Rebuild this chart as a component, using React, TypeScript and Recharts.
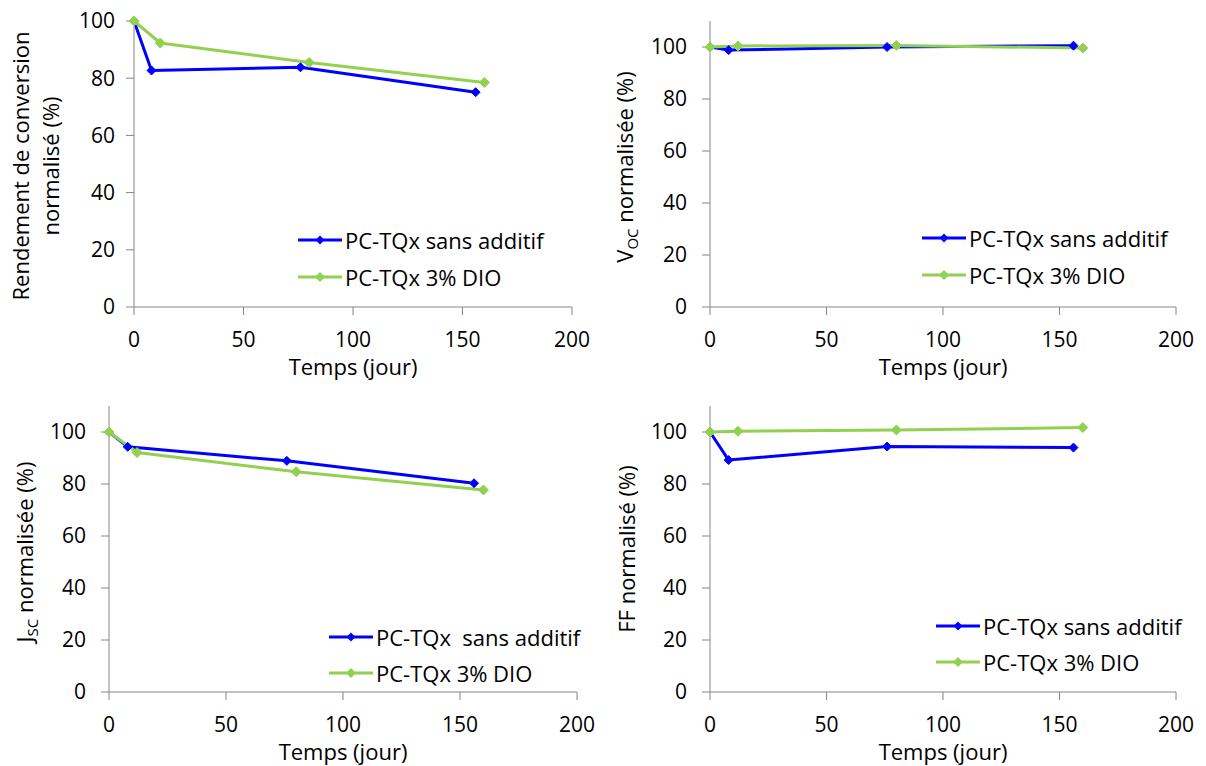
import React from 'react';
import { LineChart, Line, XAxis, YAxis } from 'recharts';

const FONT = '"Open Sans", sans-serif';
const BLUE = '#0000FF';
const GREEN = '#92D050';
const AXIS = '#868686';
const FS = 22;
const TICK_FS = 21;

// Days of measurement for each series
const blueDays = [0, 8, 76, 156];
const greenDays = [0, 12, 80, 160];

// Normalised values (%)
const pceBlue = [100, 82.7, 83.8, 75.1];
const pceGreen = [100, 92.3, 85.5, 78.5];
const vocBlue = [100, 98.8, 100.0, 100.5];
const vocGreen = [100, 100.4, 100.6, 99.6];
const jscBlue = [100, 94.3, 88.9, 80.3];
const jscGreen = [100, 92.1, 84.7, 77.7];
const ffBlue = [100, 89.2, 94.4, 94.0];
const ffGreen = [100, 100.3, 100.8, 101.7];

const xTicks = [0, 50, 100, 150, 200];
const yTicks = [0, 20, 40, 60, 80, 100];
const namesA = ['PC-TQx sans additif', 'PC-TQx 3% DIO'];
const namesJsc = ['PC-TQx  sans additif', 'PC-TQx 3% DIO'];
const xTitle = 'Temps (jour)';

const toPoints = (days: number[], vals: number[]) => days.map((x, i) => ({ x, y: vals[i] }));

const makeDiamond = (color: string, r: number) => (props: any) => {
  const { cx, cy, index } = props;
  if (cx == null || cy == null) return <g key={`n-${index}`} />;
  return (
    <path
      key={`d-${index}`}
      d={`M${cx},${cy - r} L${cx + r},${cy} L${cx},${cy + r} L${cx - r},${cy} Z`}
      fill={color}
      stroke={color}
      strokeWidth={1}
    />
  );
};

const blueDot = makeDiamond(BLUE, 4.5);
const greenDot = makeDiamond(GREEN, 5);

type PanelProps = {
  left: number;
  top: number;
  width: number;
  height: number;
  margin: { top: number; right: number; bottom: number; left: number };
  yMax: number;
  blue: number[];
  green: number[];
  yTickMargin: number;
  yTitle: React.ReactNode;
  legendX: number;
  legendY: number;
  legendRow: number;
  names: string[];
};

const Y_AXIS_W = 60;
const X_AXIS_H = 40;

function LegendIcon({ color, r }: { color: string; r: number }) {
  return (
    <svg width={44} height={14} style={{ display: 'block', flex: 'none' }}>
      <line x1={0} y1={7} x2={44} y2={7} stroke={color} strokeWidth={3} />
      <path d={`M22,${7 - r} L${22 + r},7 L22,${7 + r} L${22 - r},7 Z`} fill={color} />
    </svg>
  );
}

function Panel(p: PanelProps) {
  const plotLeft = p.margin.left + Y_AXIS_W;
  const plotRight = p.width - p.margin.right;
  const plotBottom = p.height - p.margin.bottom - X_AXIS_H;
  const cxTitle = (plotLeft + plotRight) / 2;
  const tickStyle = { fill: '#000', fontSize: TICK_FS, fontFamily: FONT };
  return (
    <div style={{ position: 'absolute', left: p.left, top: p.top, width: p.width, height: p.height }}>
      <LineChart width={p.width} height={p.height} margin={p.margin} style={{ overflow: 'visible' }}>
        <XAxis
          type="number"
          dataKey="x"
          domain={[0, 200]}
          ticks={xTicks}
          interval={0}
          height={X_AXIS_H}
          tickSize={8}
          tickMargin={17}
          stroke={AXIS}
          tick={tickStyle}
          label={{
            content: () => (
              <text x={cxTitle} y={plotBottom + 68} textAnchor="middle" fontSize={FS} fontFamily={FONT} fill="#000">
                {xTitle}
              </text>
            ),
          }}
        />
        <YAxis
          type="number"
          domain={[0, p.yMax]}
          ticks={yTicks}
          interval={0}
          width={Y_AXIS_W}
          tickSize={8}
          tickMargin={p.yTickMargin}
          stroke={AXIS}
          tick={tickStyle}
          label={{ content: () => p.yTitle }}
        />
        <Line
          data={toPoints(blueDays, p.blue)}
          dataKey="y"
          stroke={BLUE}
          strokeWidth={3}
          strokeLinejoin="round"
          dot={blueDot}
          activeDot={false}
          isAnimationActive={false}
        />
        <Line
          data={toPoints(greenDays, p.green)}
          dataKey="y"
          stroke={GREEN}
          strokeWidth={3}
          strokeLinejoin="round"
          dot={greenDot}
          activeDot={false}
          isAnimationActive={false}
        />
      </LineChart>
      <div
        style={{
          position: 'absolute',
          left: p.legendX,
          top: p.legendY - p.legendRow / 2,
          fontFamily: FONT,
          fontSize: FS,
          color: '#000',
          whiteSpace: 'pre',
        }}
      >
        {[BLUE, GREEN].map((c, i) => (
          <div key={i} style={{ display: 'flex', alignItems: 'center', height: p.legendRow, lineHeight: `${p.legendRow}px` }}>
            <LegendIcon color={c} r={i === 0 ? 4.5 : 5} />
            <span style={{ marginLeft: 3 }}>{p.names[i]}</span>
          </div>
        ))}
      </div>
    </div>
  );
}

const rotTitle = (x: number, y: number, content: React.ReactNode, key?: string) => (
  <text
    key={key}
    x={x}
    y={y}
    transform={`rotate(-90, ${x}, ${y})`}
    textAnchor="middle"
    fontSize={FS}
    fontFamily={FONT}
    fill="#000"
  >
    {content}
  </text>
);

const sub = (main: string, s: string, rest: string) => (
  <>
    <tspan>{main}</tspan>
    <tspan fontSize={15} dy={5}>{s}</tspan>
    <tspan dy={-5}>{rest}</tspan>
  </>
);

export default function App() {
  return (
    <div style={{ position: 'absolute', left: 0, top: 0, width: 1206, height: 766, background: '#fff' }}>
      <Panel
        left={0}
        top={0}
        width={600}
        height={390}
        margin={{ top: 21, right: 28, bottom: 43, left: 74 }}
        yMax={100}
        blue={pceBlue}
        green={pceGreen}
        yTickMargin={11}
        yTitle={
          <g>
            {rotTitle(29, 166, 'Rendement de conversion', 'a')}
            {rotTitle(59, 166, 'normalisé (%)', 'b')}
          </g>
        }
        legendX={298}
        legendY={240}
        legendRow={37}
        names={namesA}
      />
      <Panel
        left={600}
        top={0}
        width={606}
        height={390}
        margin={{ top: 21, right: 30, bottom: 43, left: 50 }}
        yMax={110}
        blue={vocBlue}
        green={vocGreen}
        yTickMargin={15}
        yTitle={rotTitle(33, 167, sub('V', 'OC', ' normalisée (%)'))}
        legendX={322}
        legendY={238}
        legendRow={37}
        names={namesA}
      />
      <Panel
        left={0}
        top={385}
        width={600}
        height={381}
        margin={{ top: 21, right: 23, bottom: 34, left: 49 }}
        yMax={110}
        blue={jscBlue}
        green={jscGreen}
        yTickMargin={15}
        yTitle={rotTitle(33, 167, sub('J', 'SC', ' normalisée (%)'))}
        legendX={329}
        legendY={252}
        legendRow={36}
        names={namesJsc}
      />
      <Panel
        left={600}
        top={385}
        width={606}
        height={381}
        margin={{ top: 21, right: 30, bottom: 34, left: 50 }}
        yMax={110}
        blue={ffBlue}
        green={ffGreen}
        yTickMargin={15}
        yTitle={rotTitle(35, 164, 'FF normalisé (%)')}
        legendX={336}
        legendY={241}
        legendRow={36}
        names={namesA}
      />
    </div>
  );
}
